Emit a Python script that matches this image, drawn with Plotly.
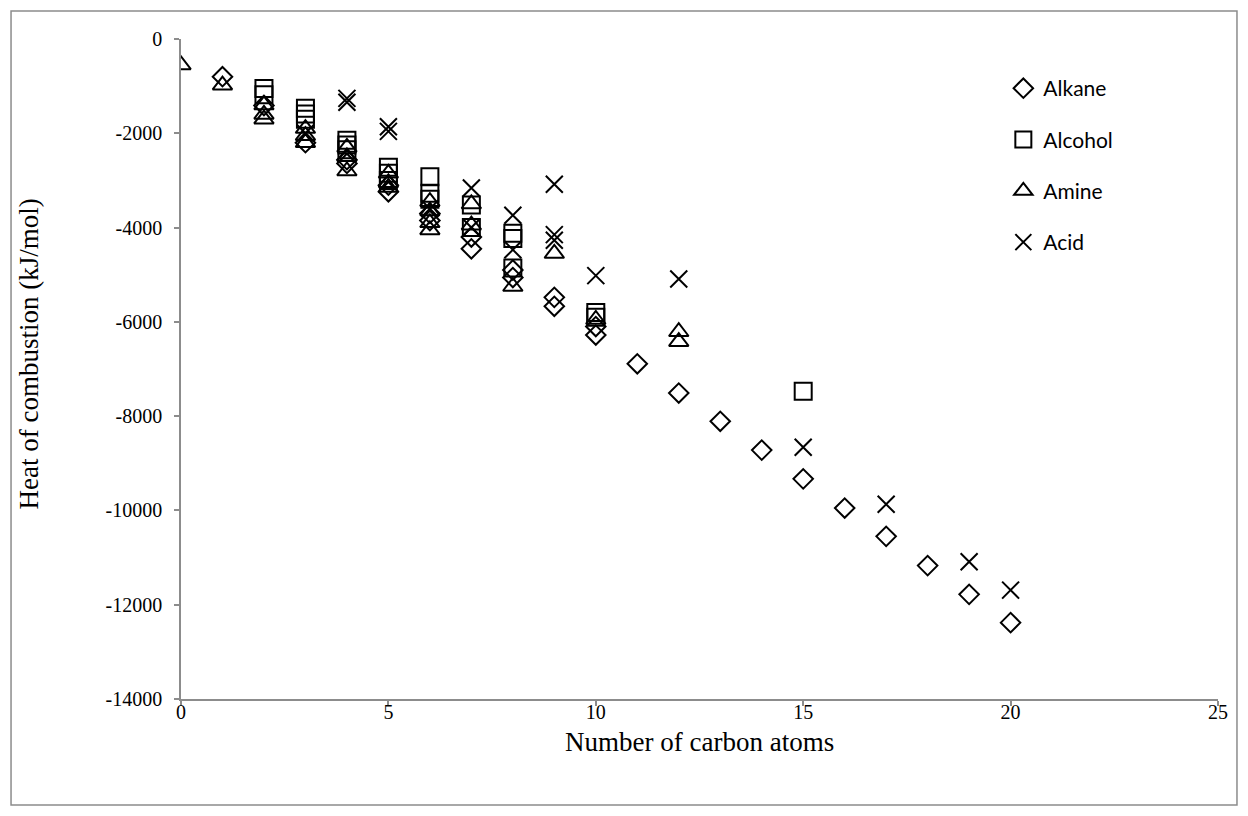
import plotly.graph_objects as go

# ---- data ----
alkane_x = [1, 2, 3, 4, 4, 5, 5, 6, 6, 7, 7, 8, 8, 9, 9, 10, 10,
            11, 12, 13, 14, 15, 16, 17, 18, 19, 20]
alkane_y = [-800, -1410, -2200, -2560, -2640, -3100, -3240, -3700, -3850,
            -4200, -4450, -4900, -5060, -5480, -5670, -6100, -6280,
            -6890, -7510, -8110, -8720, -9330, -9950, -10550, -11170,
            -11780, -12380]

alcohol_x = [2, 2, 3, 3, 3, 4, 4, 4, 5, 5, 5, 6, 6, 6, 7, 7, 8, 8, 8, 10, 10, 15]
alcohol_y = [-1050, -1180, -1470, -1590, -1700, -2150, -2250, -2350,
             -2720, -2850, -3000, -2920, -3270, -3400, -3520, -4000,
             -4120, -4230, -4860, -5800, -5900, -7470]

amine_x = [0, 1, 2, 2, 2, 3, 3, 3, 4, 4, 4, 5, 5, 5, 6, 6, 6, 6, 7, 7, 8, 9, 10, 12, 12]
amine_y = [-550, -980, -1400, -1600, -1700, -1900, -2050, -2200,
           -2300, -2500, -2800, -2850, -3050, -3150, -3450, -3650,
           -3900, -4050, -3500, -3950, -5250, -4550, -5950, -6210, -6420]

acid_x = [3, 4, 4, 5, 5, 6, 7, 7, 8, 8, 9, 9, 9, 10, 12, 15, 17, 19, 20]
acid_y = [-2000, -1260, -1340, -1860, -1960, -3600, -3160, -4000,
          -3740, -4470, -3080, -4150, -4270, -5020, -5090, -8660,
          -9870, -11090, -11690]

x_ticks = [0, 5, 10, 15, 20, 25]
y_ticks = [0, -2000, -4000, -6000, -8000, -10000, -12000, -14000]
y_tick_labels = ["0", "-2000", "-4000", "-6000", "-8000", "-10000", "-12000", "-14000"]

series = [
    ("Alkane", alkane_x, alkane_y, "diamond-open", 15),
    ("Alcohol", alcohol_x, alcohol_y, "square-open", 17),
    ("Amine", amine_x, amine_y, "triangle-up-open", 17),
    ("Acid", acid_x, acid_y, "x-thin-open", 17),
]

fig = go.Figure()
for name, xs, ys, sym, size in series:
    fig.add_trace(go.Scatter(
        x=xs, y=ys, mode="markers", name=name, legendgroup=name,
        marker=dict(symbol=sym, size=size, color="black",
                    line=dict(color="black", width=2)),
    ))

serif = "Liberation Serif, Times New Roman, serif"
axis_common = dict(
    showgrid=False, zeroline=False, showline=True, linecolor="#8c8c8c",
    linewidth=1.5, ticks="outside", ticklen=5, tickcolor="#8c8c8c",
    tickwidth=1.5, tickfont=dict(family=serif, size=20, color="black"),
)

fig.update_layout(
    width=1232, height=800,
    margin=dict(l=173, r=22, t=31, b=109),
    paper_bgcolor="white", plot_bgcolor="white",
    xaxis=dict(range=[0, 25], tickvals=x_ticks,
               ticktext=[str(v) for v in x_ticks],
               ticklabelstandoff=-11, **axis_common),
    yaxis=dict(range=[-14000, 0], tickvals=y_ticks, ticktext=y_tick_labels,
               ticklabelstandoff=8, **axis_common),
    showlegend=True,
    legend=dict(x=0.793, y=0.956, xanchor="left", yanchor="top",
                font=dict(family="Lato, Open Sans, sans-serif", size=21, color="black"),
                tracegroupgap=21, itemwidth=30, bgcolor="rgba(0,0,0,0)"),
    annotations=[
        dict(text="Heat of combustion (kJ/mol)", xref="paper", yref="paper",
             x=-0.147, y=0.523, textangle=-90, showarrow=False,
             xanchor="center", yanchor="middle",
             font=dict(family=serif, size=27, color="black")),
        dict(text="Number of carbon atoms", xref="paper", yref="paper",
             x=0.5, y=-0.065, showarrow=False, xanchor="center", yanchor="middle",
             font=dict(family=serif, size=27, color="black")),
    ],
    shapes=[
        dict(type="rect", xref="paper", yref="paper",
             x0=-0.1639, x1=1.0183, y0=-0.1606, y1=1.0424,
             line=dict(color="#8c8c8c", width=1.5), fillcolor="rgba(0,0,0,0)"),
    ],
)

fig.write_html("out.html")
